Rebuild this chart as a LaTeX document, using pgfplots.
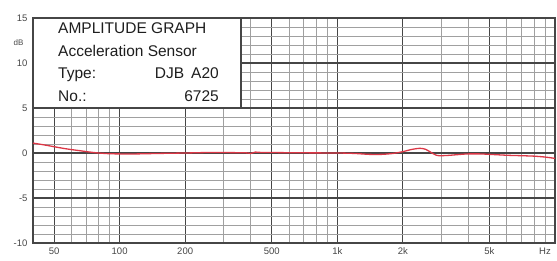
\documentclass[border=0pt]{standalone}
\usepackage{pgfplots}
\pgfplotsset{compat=1.18}
\usepackage{fontspec}
\setmainfont{Liberation Sans}
\definecolor{gmaj}{RGB}{70,70,70}
\definecolor{gmin}{RGB}{160,160,160}
\definecolor{curve}{RGB}{220,55,70}
\definecolor{txt}{RGB}{30,30,30}
\begin{document}
\begin{tikzpicture}
\begin{axis}[
  scale only axis,
  width=522pt, height=225pt,
  xmode=log, log basis x=10,
  xmin=40, xmax=10000, ymin=-10, ymax=15,
  xtick={50,100,200,500,1000,2000,5000},
  xticklabels={50,100,200,500,1k,2k,5k},
  minor xtick={60,70,80,90,300,400,600,700,800,900,3000,4000,6000,7000,8000,9000},
  ytick={-10,-5,0,5,10,15},
  minor ytick={-9,-8,-7,-6,-4,-3,-2,-1,1,2,3,4,6,7,8,9,11,12,13,14},
  grid=both,
  major grid style={gmaj, line width=1.1pt},
  minor grid style={gmin, line width=0.7pt},
  major tick length=0pt, minor tick length=0pt,
  axis line style={gmaj, line width=1.4pt},
  tick label style={font=\fontsize{9.5}{11}\selectfont, text=gmaj},
  xticklabel style={yshift=-1pt},
  yticklabel style={xshift=-2pt},
  /pgf/number format/assume math mode=true,
  clip=false,
]
\addplot[curve, line width=1.3pt, smooth, tension=0.5] coordinates {
(40,1.1) (45,0.9) (50,0.7) (55,0.52) (60,0.38) (66,0.25) (72,0.12) (80,0.0)
(90,-0.08) (100,-0.1) (120,-0.1) (150,-0.05) (200,0.0) (250,0.05) (300,0.05)
(380,0.02) (400,-0.05) (420,0.1) (450,0.05) (500,0.05) (700,0.02) (1000,0.0)
(1200,-0.05) (1400,-0.15) (1600,-0.15) (1800,-0.05) (2000,0.15) (2200,0.4)
(2400,0.52) (2550,0.4) (2700,0.05) (2850,-0.25) (3000,-0.3) (3300,-0.25)
(3700,-0.15) (4000,-0.1) (4500,-0.1) (5000,-0.15) (6000,-0.25) (7000,-0.3)
(8000,-0.35) (9000,-0.45) (10000,-0.6)
};
\draw[gmaj, line width=1.4pt, fill=white] (rel axis cs:0,0.6) rectangle (rel axis cs:0.3985,1);
\node[anchor=base west, text=txt, font=\fontsize{15.5}{18}\selectfont, inner sep=0pt] at (rel axis cs:0.0479,0.929) {AMPLITUDE GRAPH};
\node[anchor=base west, text=txt, font=\fontsize{15.5}{18}\selectfont, inner sep=0pt] at (rel axis cs:0.0479,0.8267) {Acceleration Sensor};
\node[anchor=base west, text=txt, font=\fontsize{15.5}{18}\selectfont, inner sep=0pt] at (rel axis cs:0.0479,0.729) {Type:};
\node[anchor=base east, text=txt, font=\fontsize{15.5}{18}\selectfont, inner sep=0pt] at (rel axis cs:0.3563,0.729) {DJB\hspace{7pt}A20};
\node[anchor=base west, text=txt, font=\fontsize{15.5}{18}\selectfont, inner sep=0pt] at (rel axis cs:0.0479,0.631) {No.:};
\node[anchor=base east, text=txt, font=\fontsize{15.5}{18}\selectfont, inner sep=0pt] at (rel axis cs:0.3563,0.631) {6725};
\node[anchor=east, text=gmaj, font=\fontsize{8}{9}\selectfont] at ([xshift=-6pt]rel axis cs:0,0.889) {dB};
\node[anchor=north, text=gmaj, font=\fontsize{9.5}{11}\selectfont] at ([xshift=-10pt,yshift=-1pt]rel axis cs:1,0) {Hz};
\end{axis}
\pgfresetboundingbox
\path[use as bounding box] (-33pt,-17pt) rectangle (524pt,243pt);
\end{tikzpicture}
\end{document}
